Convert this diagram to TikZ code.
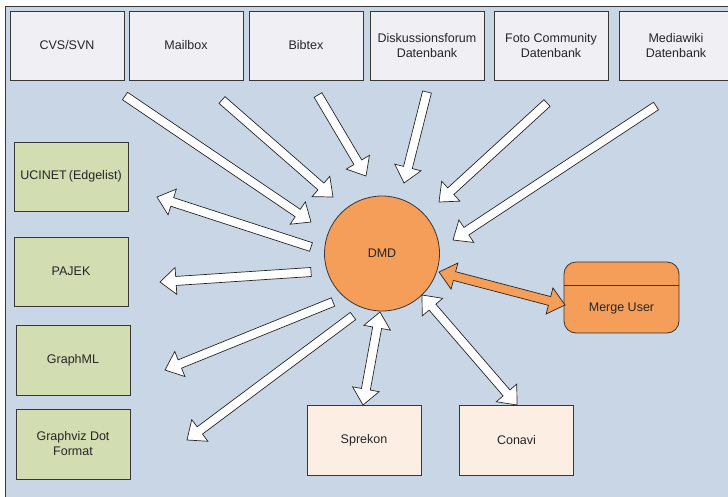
\documentclass[tikz,border=0pt]{standalone}
\usepackage{fontspec}
\setmainfont{Liberation Sans}
\usetikzlibrary{positioning, calc}

\definecolor{bgblue}{RGB}{200,214,229}
\definecolor{srcgray}{RGB}{239,239,244}
\definecolor{expgreen}{RGB}{210,222,177}
\definecolor{dmdorange}{RGB}{245,158,89}
\definecolor{toolbeige}{RGB}{252,238,227}
\definecolor{edgegray}{RGB}{55,55,55}

% block arrow: [fill]{tail}{tip}
\newcommand{\fatarrow}[3][white]{%
  \path ($(#3)!16pt!(#2)$) coordinate (fa-b);
  \draw[fat, fill=#1] ($(#2)!4.5pt!90:(#3)$) -- ($(fa-b)!4.5pt!90:(#3)$)
    -- ($(fa-b)!13.5pt!90:(#3)$) -- (#3) -- ($(fa-b)!13.5pt!-90:(#3)$)
    -- ($(fa-b)!4.5pt!-90:(#3)$) -- ($(#2)!4.5pt!-90:(#3)$) -- cycle;
}
% block arrow with two heads: [fill]{tip}{tip}
\newcommand{\fatdarrow}[3][white]{%
  \path ($(#2)!16pt!(#3)$) coordinate (fa-a) ($(#3)!16pt!(#2)$) coordinate (fa-b);
  \draw[fat, fill=#1] (#2) -- ($(fa-a)!13.5pt!90:(#3)$) -- ($(fa-a)!4.5pt!90:(#3)$)
    -- ($(fa-b)!4.5pt!90:(#3)$) -- ($(fa-b)!13.5pt!90:(#3)$) -- (#3)
    -- ($(fa-b)!13.5pt!-90:(#3)$) -- ($(fa-b)!4.5pt!-90:(#3)$)
    -- ($(fa-a)!4.5pt!-90:(#3)$) -- ($(fa-a)!13.5pt!-90:(#3)$) -- cycle;
}

\begin{document}
\begin{tikzpicture}[
    x=1pt, y=-1pt,
    box/.style={draw=edgegray, line width=0.8pt, minimum width=114pt, minimum height=69pt,
      font=\fontsize{12.5}{15}\selectfont, align=center, text=black!85},
    src/.style={box, fill=srcgray},
    export/.style={box, fill=expgreen},
    tool/.style={box, fill=toolbeige},
    fat/.style={draw=black!85, line width=0.7pt, line join=miter},
]
\useasboundingbox (0,0) rectangle (728,496);
\fill[bgblue] (5,6) rectangle (735,500);
\draw[edgegray, line width=0.8pt] (5,500) -- (5,6) -- (735,6);

% Top: data sources
\node[src] (cvs) at (67,45.5) {CVS/SVN};
\node[src] (mail) at (186,45.5) {Mailbox};
\node[src] (bib) at (306,45.5) {Bibtex};
\node[src] (forum) at (427,45.5) {Diskussionsforum\\Datenbank};
\node[src] (foto) at (551,45.5) {Foto Community\\Datenbank};
\node[src] (wiki) at (676,45.5) {Mediawiki\\Datenbank};

% Left: export formats
\node[export] (ucinet) at (71,176.5) {UCINET\,(Edgelist)};
\node[export] (pajek) at (71,271.5) {PAJEK};
\node[export, minimum height=70pt] (graphml) at (73,360) {GraphML};
\node[export, minimum height=70pt] (graphviz) at (73,444) {Graphviz Dot\\Format};

% Center
\node[circle, draw=edgegray, line width=0.8pt, fill=dmdorange, minimum size=115pt,
  font=\fontsize{12.5}{15}\selectfont, text=black!85] (dmd) at (382,253.5) {DMD};

% Merge User
\node[draw=edgegray, line width=0.8pt, fill=dmdorange, rounded corners=12pt,
  minimum width=115pt, minimum height=71pt] (merge) at (621.5,297.5) {};
\draw[edgegray, line width=0.8pt] ($(merge.north west)+(0,24)$) -- ($(merge.north east)+(0,24)$);
\node[font=\fontsize{12.5}{15}\selectfont, text=black!85] (merge-label) at ($(merge.center)+(0,11)$) {Merge User};

% Bottom: tools
\node[tool, minimum height=70pt] (sprekon) at (364,440) {Sprekon};
\node[tool, minimum height=70pt] (conavi) at (516.5,440) {Conavi};

% Arrow ends
\coordinate (cvs-out) at (125,96);    \coordinate (cvs-in) at (311,222);
\coordinate (mail-out) at (222,100);  \coordinate (mail-in) at (333,197);
\coordinate (bib-out) at (318,95);    \coordinate (bib-in) at (366,176);
\coordinate (forum-out) at (427,92);  \coordinate (forum-in) at (404,183);
\coordinate (foto-out) at (547,103);  \coordinate (foto-in) at (439,202);
\coordinate (wiki-out) at (656,106);  \coordinate (wiki-in) at (453,240);
\coordinate (ucinet-out) at (311,247);   \coordinate (ucinet-in) at (157,197);
\coordinate (pajek-out) at (311,272);    \coordinate (pajek-in) at (160,282);
\coordinate (graphml-out) at (333,302);  \coordinate (graphml-in) at (165,370);
\coordinate (graphviz-out) at (353,316); \coordinate (graphviz-in) at (187,440);
\coordinate (sprekon-top) at (380,312);  \coordinate (sprekon-bot) at (363,405);
\coordinate (conavi-top) at (422,295);   \coordinate (conavi-bot) at (517,405);
\coordinate (merge-l) at (439,272);      \coordinate (merge-r) at (565,305);

% Sources into DMD
\foreach \s in {cvs, mail, bib, forum, foto, wiki}
  \fatarrow{\s-out}{\s-in};

% DMD to formats
\foreach \e in {ucinet, pajek, graphml, graphviz}
  \fatarrow{\e-out}{\e-in};

% both ways
\fatdarrow{sprekon-top}{sprekon-bot}
\fatdarrow{conavi-top}{conavi-bot}
\fatdarrow[dmdorange]{merge-l}{merge-r}

\end{tikzpicture}
\end{document}
